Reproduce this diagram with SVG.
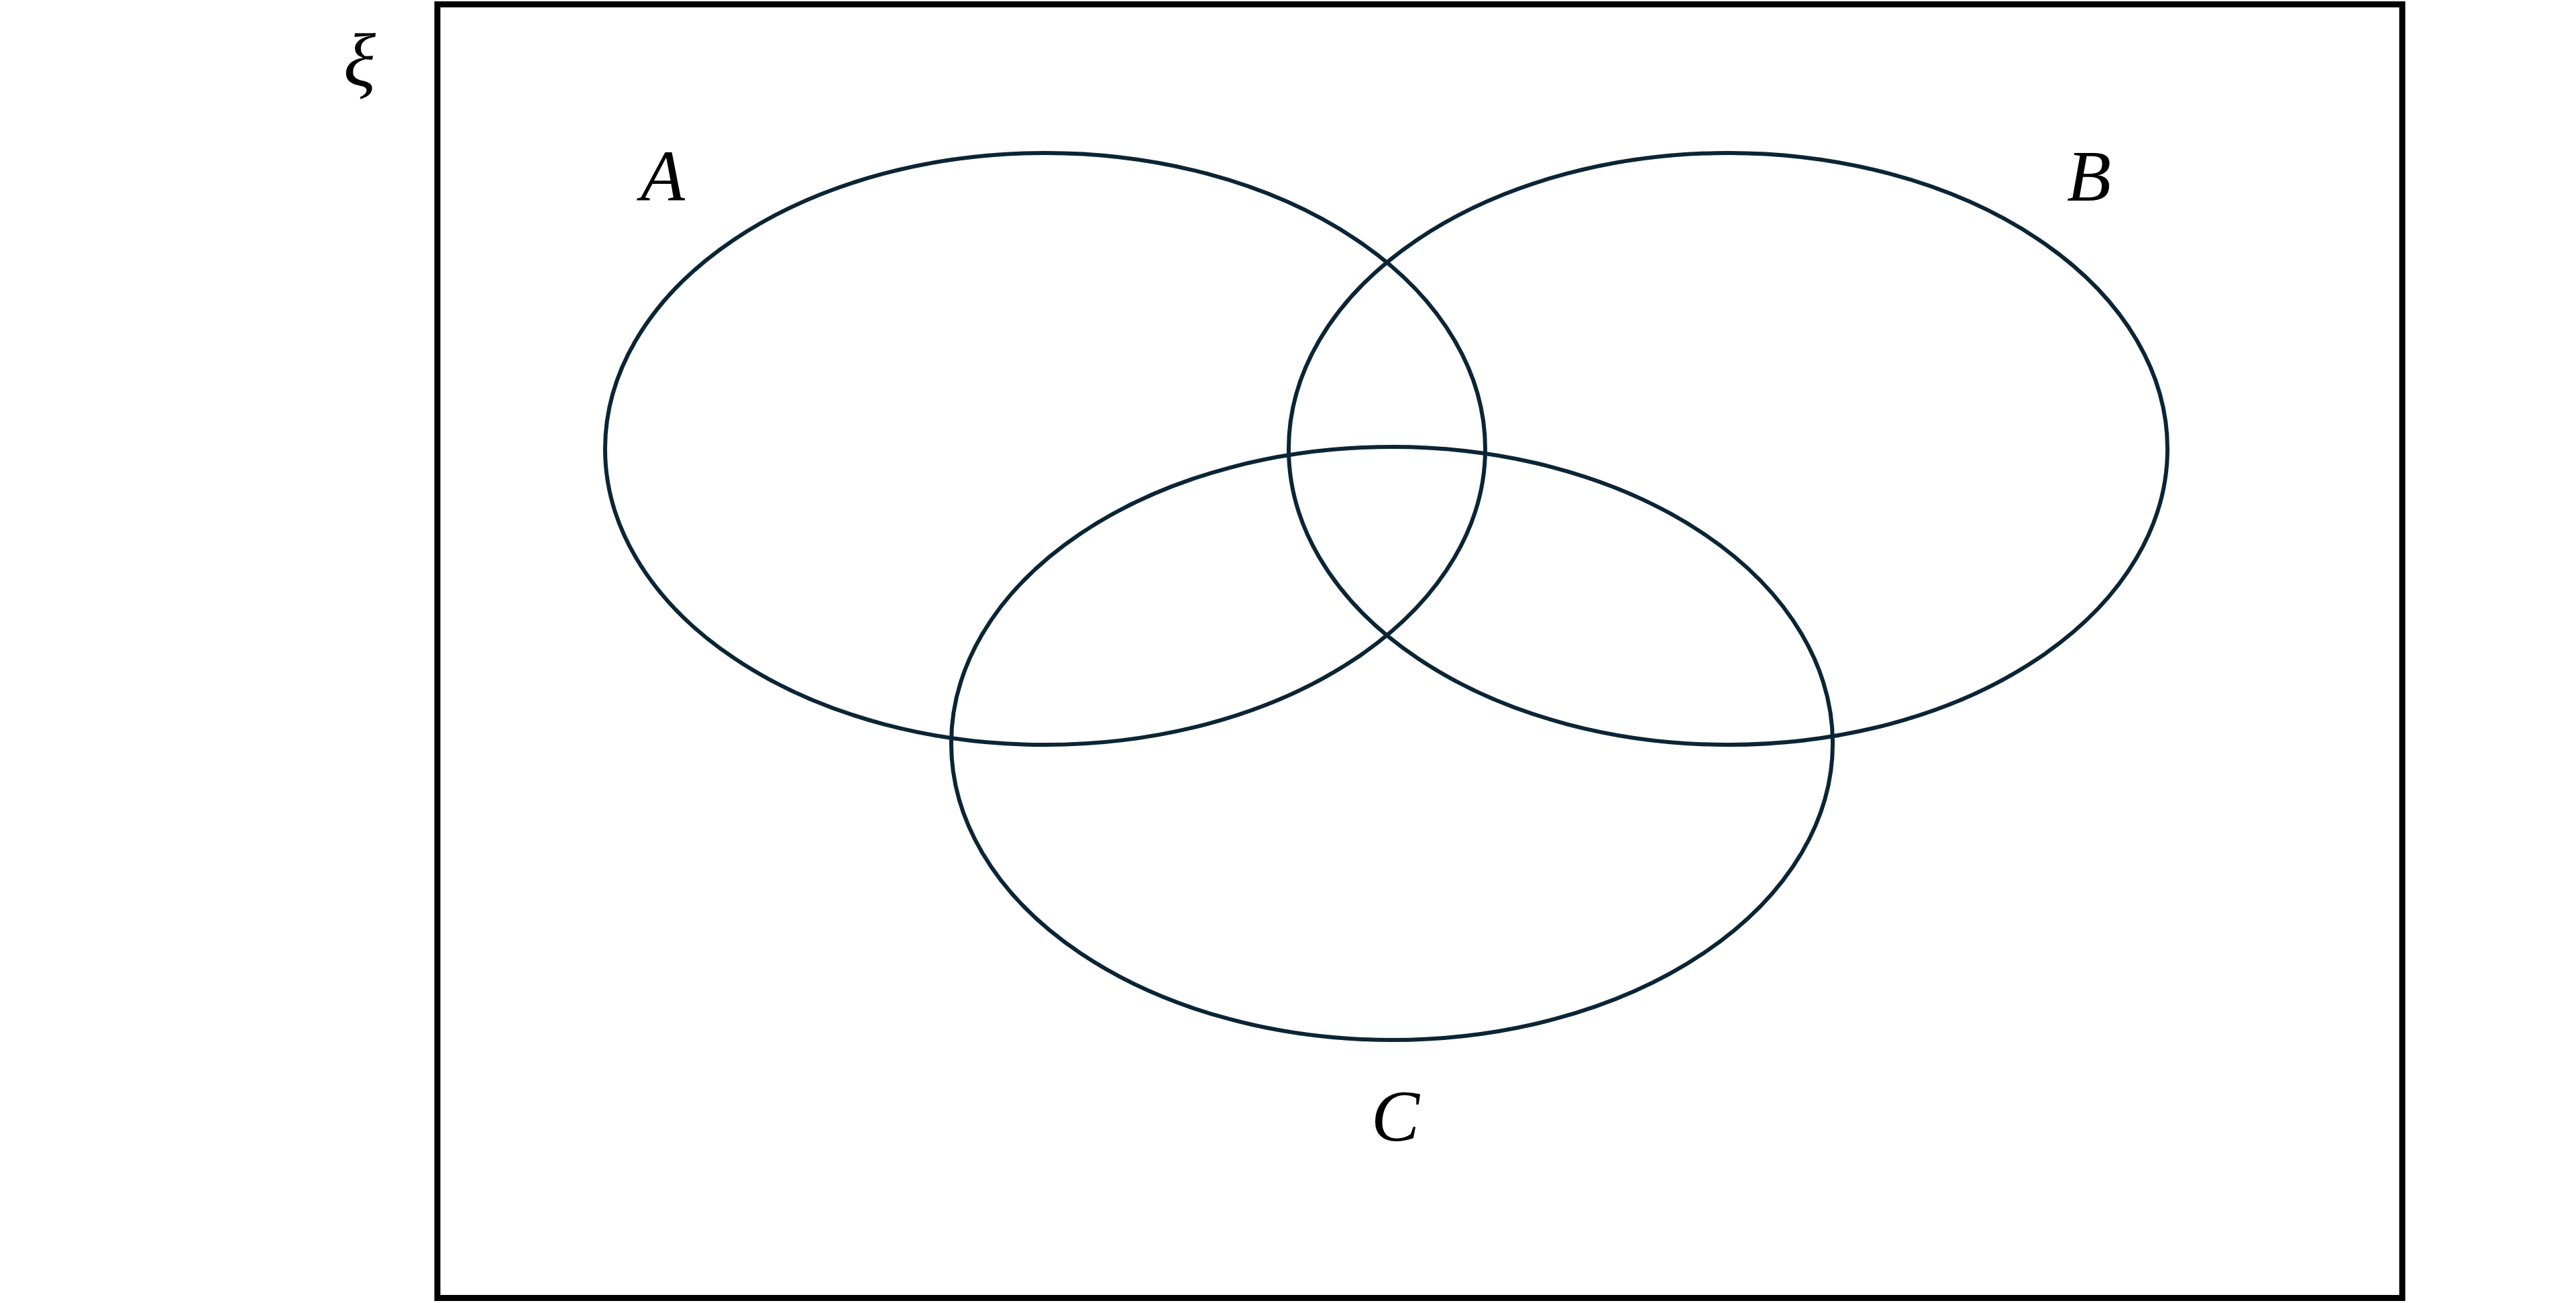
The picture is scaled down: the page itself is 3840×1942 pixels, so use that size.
<svg xmlns="http://www.w3.org/2000/svg" width="3840" height="1942" viewBox="0 0 3840 1942">
<style>
.set{fill:none;stroke:#0b2535;stroke-width:6}
.frame{fill:none;stroke:#000;stroke-width:9}
.lbl{font-family:"Liberation Serif","DejaVu Serif",serif;font-style:italic;font-size:108px;fill:#000;text-anchor:middle}
</style>
<rect width="3840" height="1942" fill="#fff"/>
<g id="universe">
<rect class="frame" x="652" y="6.5" width="2929" height="1928"/>
<text class="lbl" x="536" y="128" style="font-size:112px">ξ</text>
</g>
<g id="setA">
<ellipse class="set" cx="1558" cy="669" rx="656" ry="441"/>
<text class="lbl" x="988" y="299">A</text>
</g>
<g id="setB">
<ellipse class="set" cx="2576" cy="669" rx="655" ry="441"/>
<text class="lbl" x="3114" y="299">B</text>
</g>
<g id="setC">
<ellipse class="set" cx="2075" cy="1108" rx="657" ry="442"/>
<text class="lbl" x="2080" y="1700">C</text>
</g>
<g id="connectors"></g>
</svg>
